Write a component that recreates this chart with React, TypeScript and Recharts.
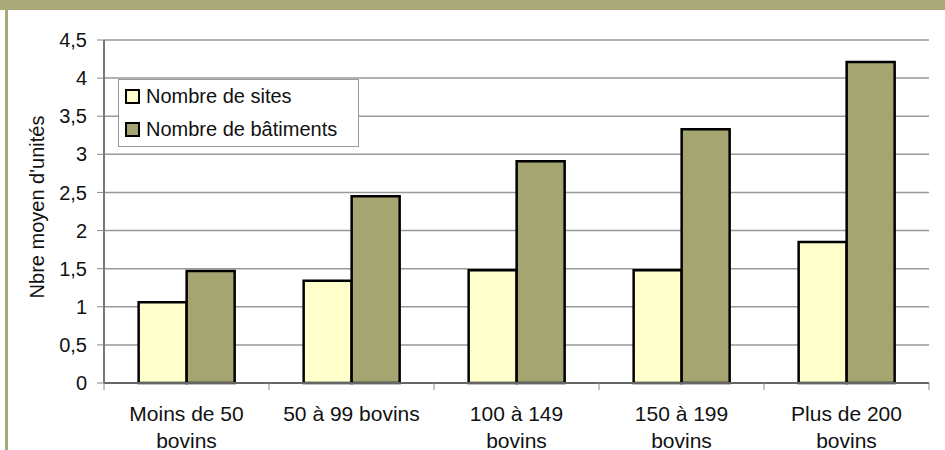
import React from "react";
import { BarChart, Bar, XAxis, YAxis, CartesianGrid, Legend } from "recharts";

const categories = [
  "Moins de 50\nbovins",
  "50 à 99 bovins",
  "100 à 149\nbovins",
  "150 à 199\nbovins",
  "Plus de 200\nbovins",
];
const sites = [1.06, 1.34, 1.48, 1.48, 1.85];
const batiments = [1.47, 2.45, 2.91, 3.33, 4.21];
const yTicks = [0, 0.5, 1, 1.5, 2, 2.5, 3, 3.5, 4, 4.5];

const SERIES_SITES = "Nombre de sites";
const SERIES_BAT = "Nombre de bâtiments";

const data = categories.map((c, i) => ({
  cat: c,
  sites: sites[i],
  bat: batiments[i],
}));

const W = 945;
const H = 450;
const M = { top: 40, right: 16, left: 44, bottom: 0 };
const Y_W = 60;
const X_H = 67;
const PLOT_W = W - M.left - M.right - Y_W;
const BAND = PLOT_W / categories.length;
const FONT = "'Liberation Sans', Arial, sans-serif";

const fmt = (v: number) => String(v).replace(".", ",");

function XTick(props: any) {
  const { x, y, payload, index } = props;
  const lines = String(payload.value).split("\n");
  return (
    <g>
      <line x1={x - BAND / 2} y1={y - 8} x2={x - BAND / 2} y2={y - 1} stroke="#888" strokeWidth={1} />
      {index === categories.length - 1 && (
        <line x1={x + BAND / 2} y1={y - 8} x2={x + BAND / 2} y2={y - 1} stroke="#888" strokeWidth={1} />
      )}
      <text x={x} y={y + 30} textAnchor="middle" fontSize={21} fontFamily={FONT} fill="#111">
        {lines.map((l, i) => (
          <tspan key={i} x={x} dy={i === 0 ? 0 : 27}>
            {l}
          </tspan>
        ))}
      </text>
    </g>
  );
}

function LegendBox() {
  const items = [
    { name: SERIES_SITES, color: "#FFFFCC" },
    { name: SERIES_BAT, color: "#A5A572" },
  ];
  return (
    <div
      style={{
        width: 239,
        height: 66,
        border: "1px solid #999",
        background: "#fff",
        fontFamily: FONT,
        fontSize: 20,
        color: "#111",
      }}
    >
      {items.map((it, i) => (
        <div key={i} style={{ display: "flex", alignItems: "center", height: 33, paddingLeft: 6 }}>
          <span
            style={{
              display: "inline-block",
              width: 11,
              height: 11,
              border: "2px solid #000",
              background: it.color,
              marginRight: 6,
            }}
          />
          <span>{it.name}</span>
        </div>
      ))}
    </div>
  );
}

export default function App() {
  return (
    <div style={{ position: "absolute", left: 0, top: 0, width: W, height: H, background: "#fff" }}>
      <div style={{ position: "absolute", left: 0, top: 0, width: W, height: 10, background: "#A8A878" }} />
      <div style={{ position: "absolute", left: 5, top: 0, width: 3, height: H, background: "#A8A878" }} />
      <div style={{ position: "absolute", left: 0, top: 0 }}>
        <BarChart
          width={W}
          height={H}
          data={data}
          margin={M}
          barCategoryGap="21%"
          barGap={0}
        >
          <CartesianGrid vertical={false} stroke="#999" strokeWidth={1.5} />
          <XAxis
            dataKey="cat"
            height={X_H}
            tick={<XTick />}
            tickLine={false}
            axisLine={{ stroke: "#666", strokeWidth: 2 }}
            interval={0}
          />
          <YAxis
            domain={[0, 4.5]}
            ticks={yTicks}
            width={Y_W}
            tickFormatter={fmt}
            tickSize={7}
            tickMargin={10}
            tickLine={{ stroke: "#888" }}
            axisLine={{ stroke: "#777", strokeWidth: 2 }}
            tick={{ fontSize: 20, fontFamily: FONT, fill: "#111" }}
            label={{
              content: () => (
                <text
                  x={37}
                  y={207}
                  transform="rotate(-90 37 207)"
                  textAnchor="middle"
                  dominantBaseline="central"
                  fontSize={20}
                  fontFamily={FONT}
                  fill="#111"
                >
                  Nbre moyen d'unités
                </text>
              ),
            }}
          />
          <YAxis
            yAxisId="r"
            orientation="right"
            width={0}
            tick={false}
            tickLine={false}
            axisLine={{ stroke: "#999", strokeWidth: 2 }}
          />
          <Legend
            layout="horizontal"
            verticalAlign="middle"
            align="center"
            content={<LegendBox />}
            wrapperStyle={{ position: "absolute", left: 118, top: 79, width: "auto" }}
          />
          <Bar dataKey="sites" name={SERIES_SITES} fill="#FFFFCC" stroke="#000" strokeWidth={2.5} isAnimationActive={false} />
          <Bar dataKey="bat" name={SERIES_BAT} fill="#A5A572" stroke="#000" strokeWidth={2.5} isAnimationActive={false} />
        </BarChart>
      </div>
    </div>
  );
}
